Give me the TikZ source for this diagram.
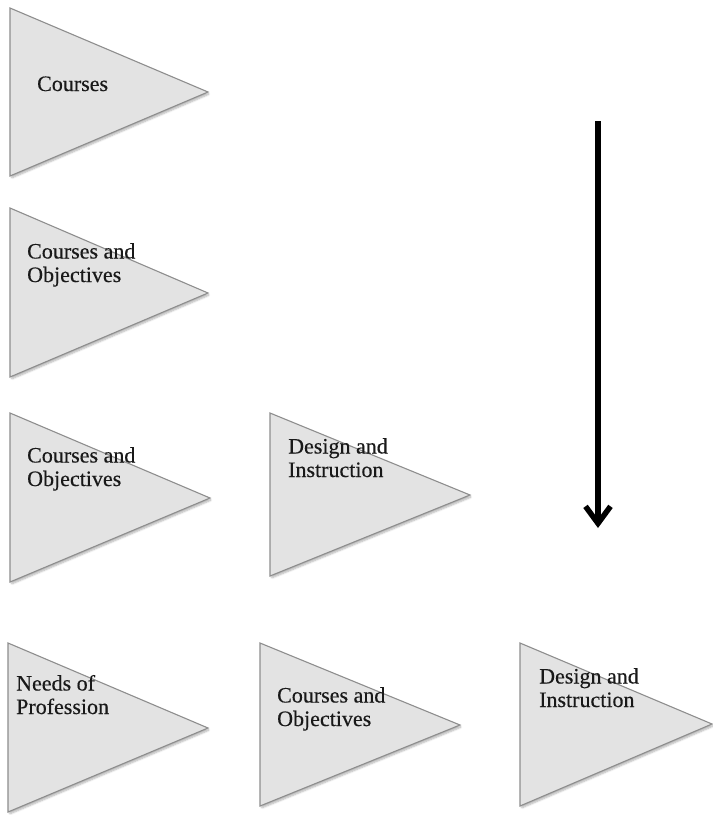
\documentclass[tikz,border=0pt]{standalone}
\usepackage{fontspec}
\setmainfont[FakeBold=0.4]{Liberation Serif}
\usetikzlibrary{arrows.meta,shadows.blur}
\definecolor{trifill}{HTML}{E3E3E3}
\definecolor{triedge}{HTML}{8E8E8E}
\tikzset{
  tri/.style={fill=trifill, draw=triedge, line width=1.1pt, line join=miter,
    blur shadow={shadow xshift=1.5pt, shadow yshift=-2pt, shadow blur steps=6,
      shadow blur extra rounding=1pt, shadow opacity=30}},
  lbl/.style={anchor=base west, inner sep=0pt, align=left,
    font=\fontsize{22}{23.5}\selectfont, text=black!90},
  flow/.style={line width=5.5pt, -{Straight Barb[length=17pt, width=25pt]}}
}
\begin{document}
\begin{tikzpicture}[x=1pt, y=-1pt]
  \useasboundingbox (0,0) rectangle (713,815);
  % row 1
  \path[tri] (10,8) -- (10,176) -- (208,92) -- cycle;
  \node[lbl] (r1a) at (37,91) {Courses};
  % row 2
  \path[tri] (10,208) -- (10,377) -- (208,293) -- cycle;
  \node[lbl] (r2a) at (27,282) {Courses and\\Objectives};
  % row 3
  \path[tri] (10,413) -- (10,582) -- (210,498) -- cycle;
  \node[lbl] (r3a) at (27,486) {Courses and\\Objectives};
  \path[tri] (270,413) -- (270,576) -- (470,495) -- cycle;
  \node[lbl] (r3b) at (288,477) {Design and\\Instruction};
  % row 4
  \path[tri] (8,643) -- (8,812) -- (208,728) -- cycle;
  \node[lbl] (r4a) at (16,714) {Needs of\\Profession};
  \path[tri] (260,643) -- (260,806) -- (460,725) -- cycle;
  \node[lbl] (r4b) at (277,726) {Courses and\\Objectives};
  \path[tri] (520,643) -- (520,806) -- (712,724) -- cycle;
  \node[lbl] (r4c) at (539,707) {Design and\\Instruction};
  % progression arrow
  \coordinate (arrtop) at (598,121);
  \coordinate (arrend) at (598,528);
  \draw[flow] (arrtop) -- (arrend);
\end{tikzpicture}
\end{document}
